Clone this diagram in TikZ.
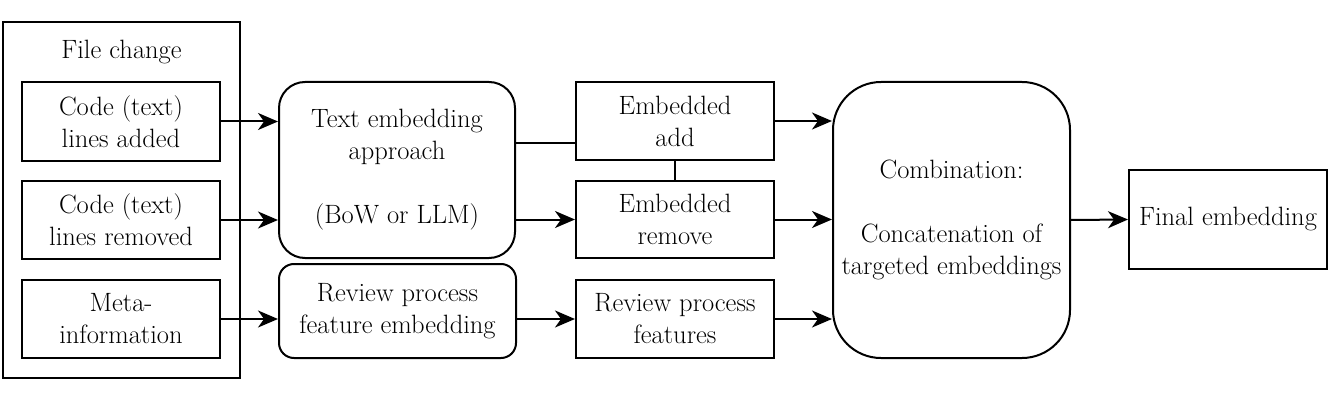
\documentclass[tikz,border=0pt]{standalone}
\usepackage{fontspec}
\usetikzlibrary{arrows.meta}
\tikzset{
  lbl/.style={font=\rmfamily\fontsize{26.5}{32}\selectfont, align=center, inner sep=0pt},
  box/.style={lbl, draw, line width=2pt},
  rbox/.style={lbl, draw, line width=2pt, rounded corners=#1},
  conn/.style={line width=2pt},
  arr/.style={line width=2pt, -{Stealth[length=20pt,width=17pt,inset=6pt]}}
}
\begin{document}
\begin{tikzpicture}[x=1pt,y=-1pt]
\useasboundingbox (0,0) rectangle (1329,406);
% outer File change box
\node[box, minimum width=237pt, minimum height=356pt] (outer) at (121.5,200) {};
\node[lbl] (fctitle) at (121.5,52) {File change};
\node[box, minimum width=198pt, minimum height=79pt] (add) at (121,121.5) {Code (text)\\lines added};
\node[box, minimum width=198pt, minimum height=78pt] (rem) at (121,220) {Code (text)\\lines removed};
\node[box, minimum width=198pt, minimum height=78pt] (meta) at (121,319) {Meta-\\information};
% middle column
\node[rbox=26pt, minimum width=236pt, minimum height=176pt] (temb) at (397,170) {Text embedding\\approach\\[32pt](BoW or LLM)};
\node[rbox=15pt, minimum width=237pt, minimum height=94pt] (remb) at (397.5,311) {Review process\\feature embedding};
\node[box, minimum width=198pt, minimum height=78pt] (eadd) at (675,121) {Embedded\\add};
\node[box, minimum width=198pt, minimum height=77pt] (erem) at (675,219.5) {Embedded\\remove};
\node[box, minimum width=198pt, minimum height=78pt] (feat) at (675,319) {Review process\\features};
\node[rbox=48pt, minimum width=237pt, minimum height=276pt] (comb) at (951.5,220) {Combination:\\[32pt]Concatenation of\\targeted embeddings};
\node[box, minimum width=198pt, minimum height=99pt] (final) at (1228,219.5) {Final embedding};
% connectors
\draw[arr] (add.east) -- (add.east -| temb.west);
\draw[arr] (rem.east) -- (rem.east -| temb.west);
\draw[arr] (meta.east) -- (meta.east -| remb.west);
\draw[conn] ([yshift=27pt]temb.east) -- ([yshift=27pt]temb.east -| eadd.west);
\draw[arr] (temb.east |- erem.west) -- (erem.west);
\draw[conn] (eadd.south) -- (erem.north);
\draw[arr] (remb.east |- feat.west) -- (feat.west);
\draw[arr] (eadd.east) -- (eadd.east -| comb.west);
\draw[arr] (erem.east) -- (erem.east -| comb.west);
\draw[arr] (feat.east) -- (feat.east -| comb.west);
\draw[arr] (comb.east) -- (final.west);
\end{tikzpicture}
\end{document}
